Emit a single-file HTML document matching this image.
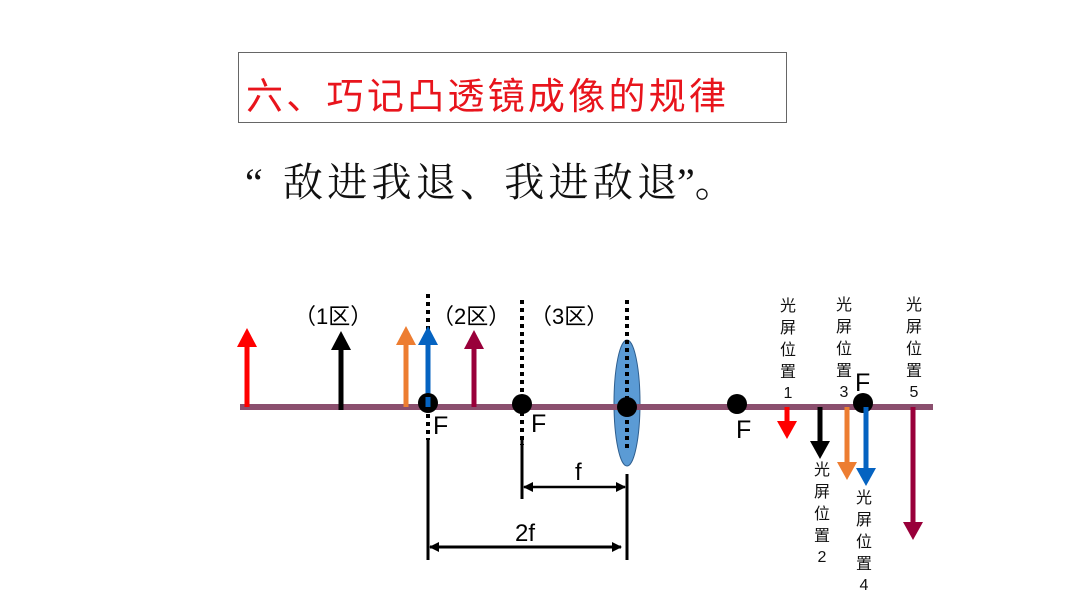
<!DOCTYPE html>
<html><head><meta charset="utf-8"><style>
html,body{margin:0;padding:0;background:#fff;}
body{width:1066px;height:600px;overflow:hidden;}
svg text{font-family:"Liberation Sans","Noto Sans CJK SC",sans-serif;}
.s{font-family:"Liberation Serif","Noto Serif CJK SC",serif !important;}
.c{font-family:"Noto Sans CJK SC",sans-serif !important;}
</style></head><body>
<svg width="1066" height="600" viewBox="0 0 1066 600" xmlns="http://www.w3.org/2000/svg">
<defs>
<marker id="ah" markerWidth="10" markerHeight="10" refX="9" refY="5" orient="auto" markerUnits="userSpaceOnUse"><path d="M0,0 L10,5 L0,10 z" fill="#000"/></marker>
<marker id="at" markerWidth="10" markerHeight="10" refX="1" refY="5" orient="auto" markerUnits="userSpaceOnUse"><path d="M10,0 L0,5 L10,10 z" fill="#000"/></marker>
</defs>
<rect x="238.5" y="52.5" width="548" height="70" fill="none" stroke="#666" stroke-width="1"/>
<text x="246" y="109" font-size="37" fill="#e8141c" textLength="480" lengthAdjust="spacing">六、巧记凸透镜成像的规律</text>
<text class="s" x="245" y="196" font-size="40" fill="#111">“</text>
<text class="s" x="283" y="196" font-size="40" fill="#111" textLength="394" lengthAdjust="spacing">敌进我退、我进敌退</text>
<text class="s" x="677" y="196" font-size="40" fill="#111">”。</text>

<!-- dotted lines -->
<line x1="428" y1="294" x2="428" y2="440" stroke="#000" stroke-width="4" stroke-dasharray="4,4"/>
<line x1="522" y1="300" x2="522" y2="445" stroke="#000" stroke-width="4" stroke-dasharray="4,4"/>
<!-- solid lines -->
<line x1="428" y1="440" x2="428" y2="560" stroke="#000" stroke-width="3"/>
<line x1="522" y1="440" x2="522" y2="499" stroke="#000" stroke-width="3"/>
<line x1="627" y1="474" x2="627" y2="560" stroke="#000" stroke-width="3"/>
<!-- lens -->
<ellipse cx="627" cy="403" rx="13" ry="63" fill="#5b9bd5" stroke="#2f5f8f" stroke-width="1"/>
<line x1="627" y1="300" x2="627" y2="450" stroke="#000" stroke-width="4" stroke-dasharray="4,4"/>
<!-- axis -->
<line x1="240" y1="407" x2="933" y2="407" stroke="#8b4f6e" stroke-width="6"/>

<!-- up arrows -->
<g stroke-width="5">
<line x1="247" y1="407" x2="247" y2="345" stroke="#ff0000"/><path d="M237,347 L257,347 L247,328 z" fill="#ff0000"/>
<line x1="341" y1="410" x2="341" y2="348" stroke="#000"/><path d="M331,350 L351,350 L341,331 z" fill="#000"/>
<line x1="406" y1="407" x2="406" y2="343" stroke="#ed7d31"/><path d="M396,345 L416,345 L406,326 z" fill="#ed7d31"/>
<line x1="428" y1="407" x2="428" y2="343" stroke="#0563c1"/><path d="M418,345 L438,345 L428,326 z" fill="#0563c1"/>
<line x1="474" y1="407" x2="474" y2="347" stroke="#99003a"/><path d="M464,349 L484,349 L474,330 z" fill="#99003a"/>
</g>
<!-- dots -->
<circle cx="428" cy="403" r="10" fill="#000"/>
<line x1="428" y1="397" x2="428" y2="407" stroke="#0563c1" stroke-width="5"/>
<circle cx="522" cy="404" r="10" fill="#000"/>
<circle cx="627" cy="407" r="10" fill="#000"/>
<circle cx="737" cy="404" r="10" fill="#000"/>
<circle cx="863" cy="403" r="10" fill="#000"/>

<!-- down arrows -->
<g stroke-width="5">
<line x1="787" y1="407" x2="787" y2="424" stroke="#ff0000"/><path d="M777,421 L797,421 L787,439 z" fill="#ff0000"/>
<line x1="820" y1="407" x2="820" y2="444" stroke="#000"/><path d="M810,441 L830,441 L820,459 z" fill="#000"/>
<line x1="847" y1="407" x2="847" y2="465" stroke="#ed7d31"/><path d="M837,462 L857,462 L847,480 z" fill="#ed7d31"/>
<line x1="866" y1="407" x2="866" y2="471" stroke="#0563c1"/><path d="M856,468 L876,468 L866,486 z" fill="#0563c1"/>
<line x1="913" y1="407" x2="913" y2="525" stroke="#99003a"/><path d="M903,522 L923,522 L913,540 z" fill="#99003a"/>
</g>

<!-- F labels -->
<g font-size="25" fill="#000">
<text x="433" y="434">F</text>
<text x="531" y="432">F</text>
<text x="736" y="438">F</text>
<text x="855" y="391">F</text>
</g>
<!-- zones -->
<g class="c" font-size="22" fill="#000">
<text x="294" y="324">（1区）</text>
<text x="432" y="324">（2区）</text>
<text x="530" y="324">（3区）</text>
</g>
<!-- dimensions -->
<line x1="524" y1="487" x2="625" y2="487" stroke="#000" stroke-width="2.5" marker-start="url(#at)" marker-end="url(#ah)"/>
<text x="575" y="480" font-size="24" fill="#000">f</text>
<line x1="430" y1="547" x2="621" y2="547" stroke="#000" stroke-width="3" marker-start="url(#at)" marker-end="url(#ah)"/>
<text x="515" y="541" font-size="24" fill="#000">2f</text>

<!-- screen position labels -->
<g class="s" font-size="16" fill="#111" text-anchor="middle">
<text x="788" y="311">光</text><text x="788" y="333">屏</text><text x="788" y="355">位</text><text x="788" y="377">置</text><text x="788" y="398">1</text>
<text x="844" y="310">光</text><text x="844" y="332">屏</text><text x="844" y="354">位</text><text x="844" y="376">置</text><text x="844" y="397">3</text>
<text x="914" y="310">光</text><text x="914" y="332">屏</text><text x="914" y="354">位</text><text x="914" y="376">置</text><text x="914" y="397">5</text>
<text x="822" y="475">光</text><text x="822" y="497">屏</text><text x="822" y="519">位</text><text x="822" y="541">置</text><text x="822" y="562">2</text>
<text x="864" y="503">光</text><text x="864" y="525">屏</text><text x="864" y="547">位</text><text x="864" y="569">置</text><text x="864" y="590">4</text>
</g>
</svg>
</body></html>
